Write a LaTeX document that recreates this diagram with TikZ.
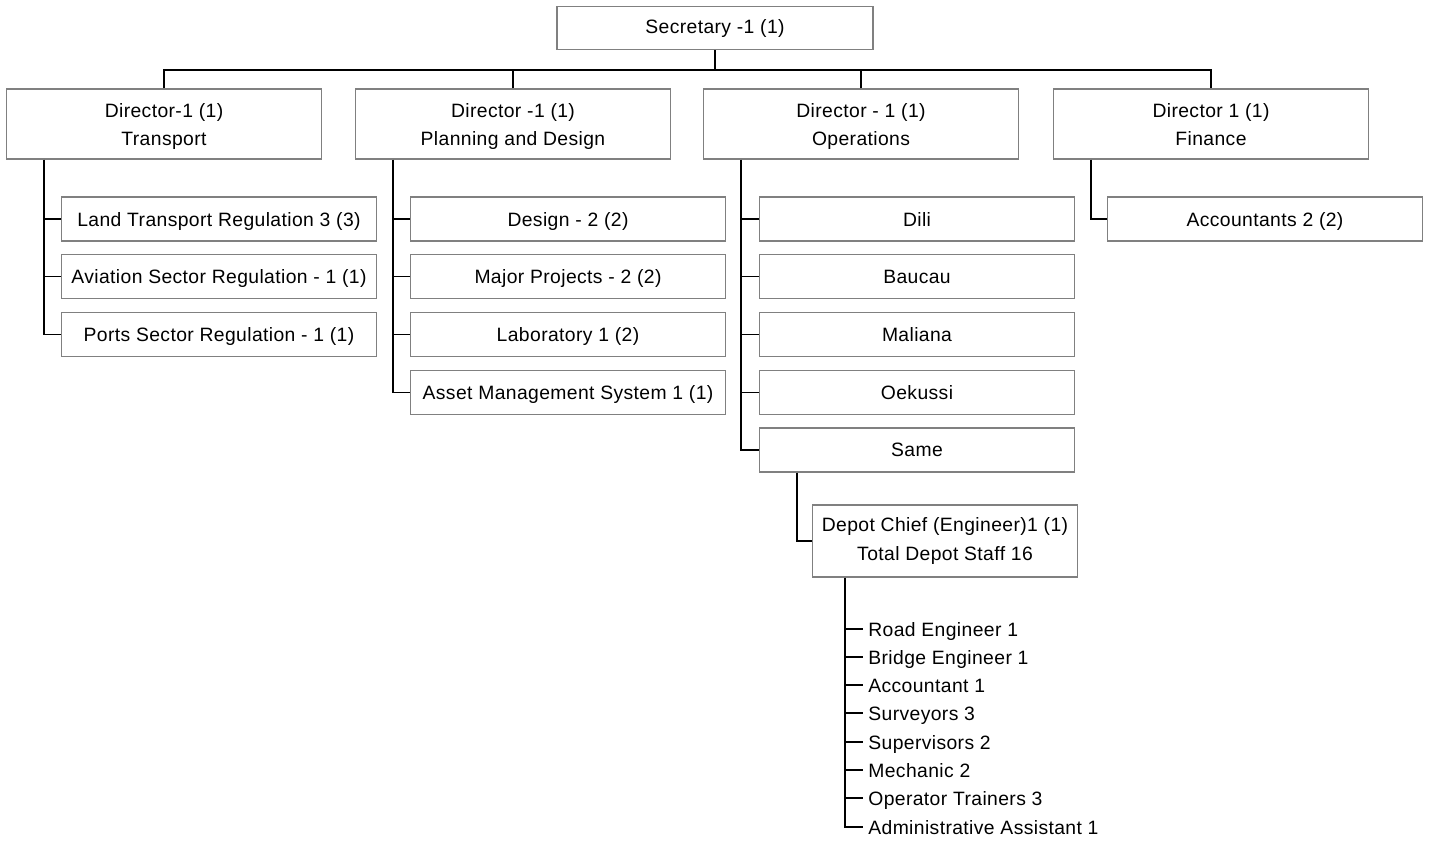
\documentclass[tikz,border=0pt]{standalone}
\usepackage{fontspec}
\setmainfont{Liberation Sans}[LetterSpace=2]
\usetikzlibrary{positioning}

\tikzset{
  unit/.style={draw=gray, line width=0.7pt, inner sep=0pt, align=center,
    font=\fontsize{11}{16}\selectfont},
  head/.style={unit, minimum width=6.3cm, minimum height=1.4cm},
  sub/.style={unit, minimum width=6.3cm, minimum height=0.88cm,
    text height=8pt, text depth=0pt},
  staff/.style={anchor=west, inner sep=0.1cm, text height=8pt, text depth=0pt,
    font=\fontsize{11}{16}\selectfont},
  link/.style={line width=0.7pt}
}

\begin{document}
\begin{tikzpicture}[x=0.02cm, y=-0.02cm]
  \useasboundingbox (0,0) rectangle (1429,840);
  % top
  \node[unit, minimum width=6.32cm, minimum height=0.86cm] (sec) at (715,28) {Secretary -1 (1)};
  \coordinate (bus) at (715,70);
  % directors
  \node[head] (transport) at (164,124) {\strut Director-1 (1)\\Transport};
  \node[head] (planning) at (513,124) {\strut Director -1 (1)\\Planning and Design};
  \node[head] (operations) at (861,124) {\strut Director - 1 (1)\\Operations};
  \node[head] (finance) at (1211,124) {\strut Director 1 (1)\\Finance\vphantom{g}};
  % transport units
  \node[sub] (land) at (219,219) {Land Transport Regulation 3 (3)};
  \node[sub, below=0.25cm of land] (aviation) {Aviation Sector Regulation - 1 (1)};
  \node[sub, below=0.25cm of aviation] (ports) {Ports Sector Regulation - 1 (1)};
  % planning units
  \node[sub] (design) at (568,219) {Design - 2 (2)};
  \node[sub, below=0.25cm of design] (projects) {Major Projects - 2 (2)};
  \node[sub, below=0.25cm of projects] (lab) {Laboratory 1 (2)};
  \node[sub, below=0.25cm of lab] (asset) {Asset Management System 1 (1)};
  % districts
  \node[sub] (dili) at (917,219) {Dili};
  \node[sub, below=0.25cm of dili] (baucau) {Baucau};
  \node[sub, below=0.25cm of baucau] (maliana) {Maliana};
  \node[sub, below=0.25cm of maliana] (oekussi) {Oekussi};
  \node[sub, below=0.25cm of oekussi] (same) {Same};
  % finance
  \node[sub] (accounts) at (1265,219) {Accountants 2 (2)};
  % depot
  \node[unit, minimum width=5.3cm, minimum height=1.44cm] (depot) at (945,541)
    {Depot Chief (Engineer)1 (1)\\Total Depot Staff 16};
  \node[staff] (road) at (863,629) {Road Engineer 1};
  \node[staff] (bridge) at (863,657) {Bridge Engineer 1};
  \node[staff] (acct) at (863,685) {Accountant 1};
  \node[staff] (survey) at (863,713) {Surveyors 3};
  \node[staff] (super) at (863,742) {Supervisors 2};
  \node[staff] (mech) at (863,770) {Mechanic 2};
  \node[staff] (trainer) at (863,798) {Operator Trainers 3};
  \node[staff] (admin) at (863,827) {Administrative Assistant 1};

  % lines
  \draw[link] (sec.south) -- (bus);
  \draw[link] (transport.north) |- (bus) -| (finance.north);
  \draw[link] (planning.north) -- (planning.north |- bus);
  \draw[link] (operations.north) -- (operations.north |- bus);

  \draw[link] ([xshift=0.76cm]transport.south west) coordinate (t1) |- (ports.west);
  \draw[link] (t1 |- land.west) -- (land.west);
  \draw[link] (t1 |- aviation.west) -- (aviation.west);

  \draw[link] ([xshift=0.76cm]planning.south west) coordinate (t2) |- (asset.west);
  \draw[link] (t2 |- design.west) -- (design.west);
  \draw[link] (t2 |- projects.west) -- (projects.west);
  \draw[link] (t2 |- lab.west) -- (lab.west);

  \draw[link] ([xshift=0.76cm]operations.south west) coordinate (t3) |- (same.west);
  \draw[link] (t3 |- dili.west) -- (dili.west);
  \draw[link] (t3 |- baucau.west) -- (baucau.west);
  \draw[link] (t3 |- maliana.west) -- (maliana.west);
  \draw[link] (t3 |- oekussi.west) -- (oekussi.west);

  \draw[link] ([xshift=0.76cm]finance.south west) |- (accounts.west);
  \draw[link] ([xshift=0.76cm]same.south west) |- (depot.west);

  \draw[link] ([xshift=0.66cm]depot.south west) coordinate (t5) |- (admin.west);
  \draw[link] (t5 |- road.west) -- (road.west);
  \draw[link] (t5 |- bridge.west) -- (bridge.west);
  \draw[link] (t5 |- acct.west) -- (acct.west);
  \draw[link] (t5 |- survey.west) -- (survey.west);
  \draw[link] (t5 |- super.west) -- (super.west);
  \draw[link] (t5 |- mech.west) -- (mech.west);
  \draw[link] (t5 |- trainer.west) -- (trainer.west);
\end{tikzpicture}
\end{document}
